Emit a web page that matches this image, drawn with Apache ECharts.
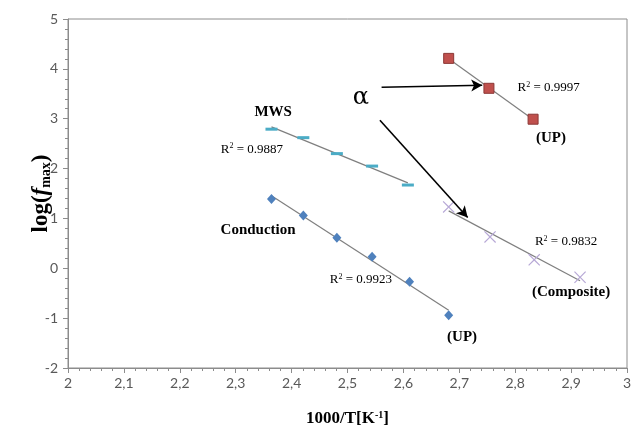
<!DOCTYPE html>
<html lang="en">
<head>
    <meta charset="UTF-8">
    <title>log(fmax) vs 1000/T</title>
    <style>
        body { margin: 0; padding: 0; background: #fff; }
        #chart { width: 634px; height: 427px; }
    </style>
</head>
<body>
    <div id="chart"></div>
    <script src="https://cdn.jsdelivr.net/npm/echarts@6/dist/echarts.min.js"></script>
    <script>
        // data
        var mwsX = [2.364, 2.421, 2.481, 2.544, 2.608];
        var mwsY = [2.79, 2.62, 2.30, 2.05, 1.67];
        var condX = [2.364, 2.421, 2.481, 2.544, 2.611, 2.681];
        var condY = [1.39, 1.06, 0.61, 0.23, -0.27, -0.94];
        var upX = [2.681, 2.753, 2.832];
        var upY = [4.21, 3.61, 2.99];
        var compX = [2.681, 2.755, 2.834, 2.916];
        var compY = [1.23, 0.63, 0.17, -0.18];

        function pairs(xs, ys) {
            return xs.map(function (x, i) { return [x, ys[i]]; });
        }

        // least squares trend line between first and last x
        function trend(xs, ys) {
            var n = xs.length, sx = 0, sy = 0, sxx = 0, sxy = 0;
            for (var i = 0; i < n; i++) {
                sx += xs[i]; sy += ys[i]; sxx += xs[i] * xs[i]; sxy += xs[i] * ys[i];
            }
            var b = (n * sxy - sx * sy) / (n * sxx - sx * sx);
            var a = (sy - b * sx) / n;
            var x0 = xs[0], x1 = xs[n - 1];
            return [[x0, a + b * x0], [x1, a + b * x1]];
        }

        var serif = '"Liberation Serif", "DejaVu Serif", serif';
        var rich = {
            t: { fontFamily: serif, fontSize: 13, color: '#000' },
            s: { fontFamily: serif, fontSize: 8, color: '#000', verticalAlign: 'top', padding: [0, 0, 6, 0] },
            b: { fontFamily: serif, fontSize: 15, fontWeight: 'bold', color: '#000' },
            a: { fontFamily: '"DejaVu Serif", serif', fontSize: 24, color: '#000' }
        };

        function note(x, y, text) {
            return {
                coord: [x, y],
                symbol: 'circle',
                symbolSize: 1,
                itemStyle: { color: 'rgba(0,0,0,0)' },
                label: { show: true, position: 'inside', formatter: text, rich: rich }
            };
        }
        function r2(v) {
            return '{t|R}{s|2}{t| = ' + v + '}';
        }

        var trendStyle = { color: '#7f7f7f', width: 1.2 };
        var xMark = 'path://M0,0.7L0.7,0L5,4.3L9.3,0L10,0.7L5.7,5L10,9.3L9.3,10L5,5.7L0.7,10L0,9.3L4.3,5Z';

        var dom = document.getElementById('chart');
        var myChart = echarts.init(dom);

        var option = {
            animation: false,
            backgroundColor: '#fff',
            grid: {
                left: 68, right: 7, top: 19, bottom: 59,
                outerBoundsMode: 'none',
                show: true, borderColor: '#8c8c8c', borderWidth: 1
            },
            xAxis: {
                type: 'value',
                min: 2, max: 3, interval: 0.1,
                axisLine: { show: true, onZero: false, lineStyle: { color: '#8c8c8c' } },
                axisTick: { show: true, length: 5, lineStyle: { color: '#8c8c8c' } },
                minorTick: { show: true, splitNumber: 5, length: 3, lineStyle: { color: '#8c8c8c' } },
                splitLine: { show: false },
                axisLabel: {
                    color: '#595959', fontFamily: 'Lato', fontSize: 14, margin: 8,
                    formatter: function (v) {
                        var s = (Math.round(v * 10) / 10).toString();
                        return s.replace('.', ',');
                    }
                },
                name: '{n|1000/T[K}{u|-1}{n|]}',
                nameLocation: 'middle',
                nameGap: 42,
                nameMoveOverlap: false,
                nameTextStyle: {
                    rich: {
                        n: { fontFamily: serif, fontSize: 17, fontWeight: 'bold', color: '#000' },
                        u: { fontFamily: serif, fontSize: 10, fontWeight: 'bold', color: '#000', verticalAlign: 'top', padding: [0, 0, 8, 0] }
                    }
                }
            },
            yAxis: {
                type: 'value',
                min: -2, max: 5, interval: 1,
                axisLine: { show: true, onZero: false, lineStyle: { color: '#8c8c8c' } },
                axisTick: { show: true, length: 5, lineStyle: { color: '#8c8c8c' } },
                minorTick: { show: true, splitNumber: 5, length: 3, lineStyle: { color: '#8c8c8c' } },
                splitLine: { show: false },
                axisLabel: { color: '#595959', fontFamily: 'Lato', fontSize: 14, margin: 10 },
                name: '{n|log(}{f|f}{m|max}{n|)}',
                nameLocation: 'middle',
                nameGap: 15,
                nameMoveOverlap: false,
                nameRotate: 90,
                nameTextStyle: {
                    rich: {
                        n: { fontFamily: serif, fontSize: 23, fontWeight: 'bold', color: '#000' },
                        f: { fontFamily: serif, fontSize: 23, fontWeight: 'bold', fontStyle: 'italic', color: '#000' },
                        m: { fontFamily: serif, fontSize: 14, fontWeight: 'bold', color: '#000', verticalAlign: 'bottom', padding: [9, 0, 0, 0] }
                    }
                }
            },
            series: [
                { type: 'line', data: trend(mwsX, mwsY), symbol: 'none', lineStyle: trendStyle, z: 1 },
                { type: 'line', data: trend(condX, condY), symbol: 'none', lineStyle: trendStyle, z: 1 },
                { type: 'line', data: trend(upX, upY), symbol: 'none', lineStyle: trendStyle, z: 1 },
                { type: 'line', data: trend(compX, compY), symbol: 'none', lineStyle: trendStyle, z: 1 },
                {
                    name: 'MWS', type: 'scatter', data: pairs(mwsX, mwsY),
                    symbol: 'rect', symbolSize: [12, 3],
                    itemStyle: { color: '#4bacc6', opacity: 1 }, z: 3
                },
                {
                    name: 'Conduction', type: 'scatter', data: pairs(condX, condY),
                    symbol: 'diamond', symbolSize: [9, 10],
                    itemStyle: { color: '#4f81bd', opacity: 1 }, z: 3
                },
                {
                    name: 'UP', type: 'scatter', data: pairs(upX, upY),
                    symbol: 'rect', symbolSize: 10,
                    itemStyle: { color: '#c0504d', borderColor: '#8c3836', borderWidth: 1, opacity: 1 }, z: 3
                },
                {
                    name: 'Composite', type: 'scatter', data: pairs(compX, compY),
                    symbol: xMark, symbolSize: 12,
                    itemStyle: { color: '#b7a8d6', opacity: 1 }, z: 3
                },
                {
                    name: 'notes', type: 'scatter', data: [], z: 4,
                    markPoint: {
                        data: [
                            note(2.367, 3.14, '{b|MWS}'),
                            note(2.329, 2.39, r2('0.9887')),
                            note(2.340, 0.77, '{b|Conduction}'),
                            note(2.524, -0.23, r2('0.9923')),
                            note(2.705, -1.38, '{b|(UP)}'),
                            note(2.524, 3.43, '{a|α}'),
                            note(2.860, 3.62, r2('0.9997')),
                            note(2.864, 2.61, '{b|(UP)}'),
                            note(2.891, 0.53, r2('0.9832')),
                            note(2.900, -0.47, '{b|(Composite)}')
                        ]
                    },
                    markLine: {
                        silent: true,
                        symbol: ['none', 'arrow'],
                        symbolSize: [9, 11],
                        label: { show: false },
                        lineStyle: { color: '#000', width: 1.6, type: 'solid' },
                        data: [
                            [{ coord: [2.561, 3.63] }, { coord: [2.741, 3.67] }],
                            [{ coord: [2.558, 2.97] }, { coord: [2.715, 1.02] }]
                        ]
                    }
                }
            ]
        };

        myChart.setOption(option);
    </script>
</body>
</html>
